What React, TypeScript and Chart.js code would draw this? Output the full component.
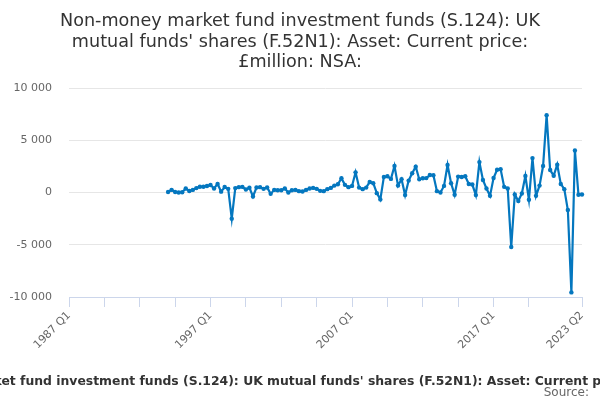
import React, { useEffect, useRef } from "react";
import { Chart, registerables } from "chart.js";

Chart.register(...registerables);

// ---- Text ----
const TITLE_LINES = [
  "Non-money market fund investment funds (S.124): UK",
  "mutual funds' shares (F.52N1): Asset: Current price:",
  "£million: NSA:",
];
const SUBTITLE =
  "Non-money market fund investment funds (S.124): UK mutual funds' shares (F.52N1): Asset: Current price: £million: NSA:";
const SOURCE = "Source:";

// ---- Categories (quarters 1987 Q1 .. 2023 Q2) ----
const quarters: string[] = [];
for (let y = 1987; y <= 2023; y++) {
  for (let q = 1; q <= 4; q++) {
    if (y === 2023 && q > 2) break;
    quarters.push(`${y} Q${q}`);
  }
}

// ---- Series (starts 1994 Q1) ----
const SERIES_START = "1994 Q1";
const values = [
  50, 250, 50, 0, 30, 380, 150, 250, 420, 550,
  550, 620, 720, 380, 820, 80, 520, 350, -2500, 420,
  510, 540, 290, 450, -380, 480, 510, 350, 480, -130,
  250, 220, 220, 380, 0, 220, 250, 130, 95, 250,
  380, 440, 350, 160, 130, 320, 440, 660, 790, 1360,
  730, 510, 630, 1930, 470, 320, 470, 1010, 890, -60,
  -660, 1490, 1550, 1300, 2530, 660, 1270, -250, 1140, 1840,
  2470, 1270, 1360, 1380, 1670, 1650, 130, 0, 630, 2630,
  890, -220, 1520, 1490, 1550, 820, 760, -250, 2910, 1200,
  380, -320, 1390, 2180, 2220, 540, 380, -5220, -190, -820,
  -95, 1580, -700, 3290, -320, 660, 2530, 7400, 2150, 1610,
  2660, 820, 320, -1680, -9560, 4020, -220, -190,
];

// ---- Axis ticks ----
const Y_MIN = -10000;
const Y_MAX = 10000;
const Y_STEP = 5000;
const X_LABELS = ["1987 Q1", "1997 Q1", "2007 Q1", "2017 Q1", "2023 Q2"];
const X_MARK_EVERY = 10;
const X_MARK_LAST_REGULAR = 130;

const LINE_COLOR = "#0477bf";
const FONT = '"DejaVu Sans", sans-serif';

function fmt(v: number): string {
  const s = String(Math.abs(Math.round(v))).replace(/\B(?=(\d{3})+(?!\d))/g, " ");
  return v < 0 ? "-" + s : s;
}

function isMark(i: number): boolean {
  return (i % X_MARK_EVERY === 0 && i <= X_MARK_LAST_REGULAR) || i === quarters.length - 1;
}

const textPlugin = {
  id: "customTexts",
  afterDraw(chart: any) {
    const ctx = chart.ctx;
    const w = chart.width;
    ctx.save();
    ctx.textAlign = "center";
    ctx.textBaseline = "alphabetic";
    ctx.fillStyle = "#333333";
    ctx.font = `17.6px ${FONT}`;
    TITLE_LINES.forEach((line, i) => ctx.fillText(line, w / 2, 26 + i * 20.5));
    ctx.font = `bold 12.4px ${FONT}`;
    ctx.fillText(SUBTITLE, w / 2 + 9, 385);
    ctx.textAlign = "right";
    ctx.fillStyle = "#666666";
    ctx.font = `12px ${FONT}`;
    ctx.fillText(SOURCE, w - 11, 396);
    ctx.restore();
  },
};

export default function App() {
  const ref = useRef<HTMLCanvasElement | null>(null);

  useEffect(() => {
    if (!ref.current) return;
    const startIdx = quarters.indexOf(SERIES_START);
    const data = quarters.map((_, i) =>
      i >= startIdx && i - startIdx < values.length ? values[i - startIdx] : null
    );
    const chart = new Chart(ref.current, {
      type: "line",
      data: {
        labels: quarters,
        datasets: [
          {
            data,
            borderColor: LINE_COLOR,
            backgroundColor: LINE_COLOR,
            borderWidth: 2.2,
            pointRadius: 2.2,
            pointBorderWidth: 0,
            pointBackgroundColor: LINE_COLOR,
            tension: 0,
            spanGaps: false,
          },
        ],
      },
      options: {
        animation: false,
        responsive: false,
        layout: { padding: { top: 88, right: 18, bottom: 43, left: 0 } },
        plugins: {
          legend: { display: false },
          tooltip: { enabled: false },
          title: { display: false },
        },
        scales: {
          x: {
            type: "category",
            offset: false,
            grid: {
              display: true,
              drawOnChartArea: false,
              drawTicks: true,
              tickLength: 10,
              color: (c: any) => (isMark(c.index) ? "#ccd6eb" : "rgba(0,0,0,0)"),
              tickColor: (c: any) => (isMark(c.index) ? "#ccd6eb" : "rgba(0,0,0,0)"),
            },
            border: { display: true, color: "#ccd6eb", width: 1 },
            ticks: {
              autoSkip: false,
              maxRotation: 45,
              minRotation: 45,
              padding: 2,
              color: "#666666",
              font: { family: FONT, size: 11 },
              callback: (_v: any, i: number) =>
                X_LABELS.includes(quarters[i]) ? quarters[i] : "",
            },
            afterFit: (s: any) => {
              s.height = 60;
            },
          },
          y: {
            min: Y_MIN,
            max: Y_MAX,
            ticks: {
              stepSize: Y_STEP,
              padding: 17,
              color: "#666666",
              font: { family: FONT, size: 11 },
              callback: (v: any) => fmt(Number(v)),
            },
            grid: { color: "#e6e6e6", drawTicks: false, lineWidth: 1 },
            border: { display: false },
            afterFit: (s: any) => {
              s.width = 69;
            },
          },
        },
      },
      plugins: [textPlugin],
    });
    return () => chart.destroy();
  }, []);

  return (
    <div style={{ position: "fixed", left: 0, top: 0, width: 600, height: 400, background: "#fff" }}>
      <canvas ref={ref} width={600} height={400} style={{ display: "block", width: 600, height: 400 }} />
    </div>
  );
}
